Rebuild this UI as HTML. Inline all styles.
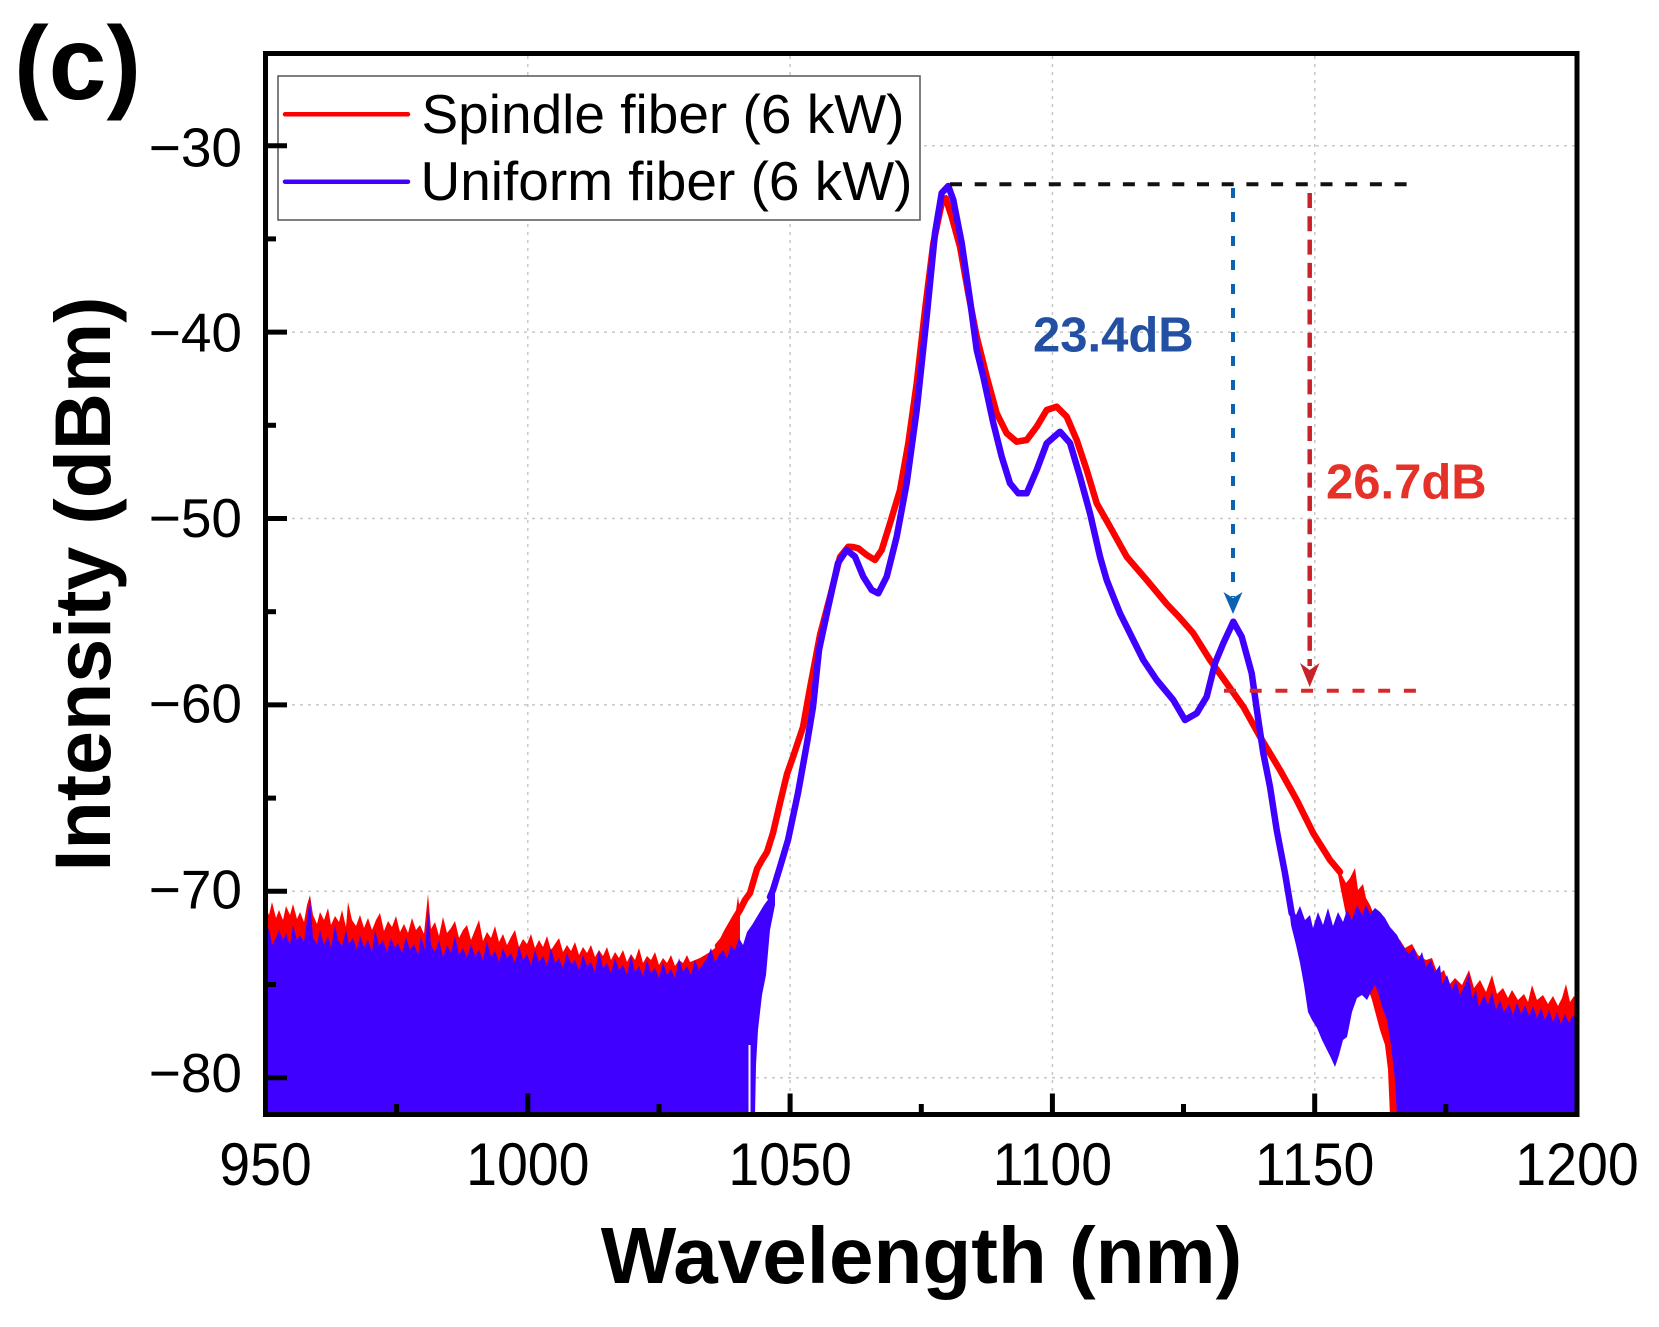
<!DOCTYPE html>
<html><head><meta charset="utf-8"><style>
html,body{margin:0;padding:0;background:#fff;}
svg{display:block;}
text{font-family:"Liberation Sans",Arial,sans-serif;}
</style></head><body>
<svg width="1659" height="1327" viewBox="0 0 1659 1327" xmlns="http://www.w3.org/2000/svg">
<defs><clipPath id="pc"><rect x="266" y="54" width="1311" height="1060"/></clipPath></defs>
<rect width="1659" height="1327" fill="#fff"/>
<!-- grid -->
<g stroke="#c8c8c8" stroke-width="1.5" stroke-dasharray="3 5" fill="none">
<line x1="527.8" y1="56" x2="527.8" y2="1112"/><line x1="790.1" y1="56" x2="790.1" y2="1112"/>
<line x1="1052.4" y1="56" x2="1052.4" y2="1112"/><line x1="1314.7" y1="56" x2="1314.7" y2="1112"/>
<line x1="268" y1="145.7" x2="1575" y2="145.7"/><line x1="268" y1="332.1" x2="1575" y2="332.1"/>
<line x1="268" y1="518.5" x2="1575" y2="518.5"/><line x1="268" y1="704.9" x2="1575" y2="704.9"/>
<line x1="268" y1="891.3" x2="1575" y2="891.3"/><line x1="268" y1="1077.7" x2="1575" y2="1077.7"/>
</g>
<g clip-path="url(#pc)">
<!-- RED -->
<polygon fill="#ff0000" points="266,1114 266,908 269,915 272,902 276,918 279,910 283,920 286,906 290,915 293,904 297,919 300,912 304,922 307,905 310,895 313,915 317,924 320,912 324,920 328,908 331,925 335,916 339,922 342,910 346,927 348,902 352,920 356,926 360,915 364,928 368,918 372,930 376,920 380,913 384,931 388,921 392,927 396,916 400,932 404,924 408,933 412,918 416,930 420,925 424,934 428,894 431,929 435,922 439,936 443,917 447,933 451,928 455,921 459,938 463,930 467,925 471,940 475,930 479,920 483,941 487,932 491,938 495,926 499,942 503,934 507,945 511,937 515,930 519,947 523,939 527,944 531,934 535,948 539,940 543,947 547,936 551,950 555,944 559,938 563,952 567,945 571,951 575,942 579,955 583,947 587,953 591,945 595,957 599,950 603,956 607,947 611,960 615,952 619,958 623,950 627,962 631,954 635,960 639,948 643,963 647,956 651,960 655,952 659,965 663,958 667,963 671,955 675,966 679,960 683,963 687,955 690,962 695,960 700,958 705,955 710,952 715,948 718,946 723,940 727,932 731,925 735,918 738,896 740,912 740,1114"/>
<polyline fill="none" stroke="#ff0000" stroke-width="6.5" stroke-linejoin="round" stroke-linecap="round" points="718,946 723,940 727,932 731,925 735,918 740,910 745,900 750,893 757,869 762,860 767,852 773,833 780,803 787,774 793,757 803,727 810,688 820,635 830,597 840,557 848.3,546.7 853,547 858.3,548.3 866.7,555 875,560 881.7,550 890,523.3 900,490 908.3,443.3 916.7,383.3 925,310 933.3,243.3 941.7,203.3 945.7,198.3 951.7,216.7 960,246.7 968.3,293.3 976.7,336.7 986.7,376.7 996.7,413.3 1006.7,433.3 1016.7,441.7 1026.7,440 1036.7,426.7 1046.7,410 1056.7,406.7 1066.7,416.7 1076.7,440 1086.7,470 1096.7,503.3 1110,526.7 1126.7,556.7 1146.7,580 1166.7,604 1180,618 1193.3,633.3 1210,660 1226.7,683.3 1243.3,706.7 1260,736.7 1280,770 1296.7,800 1313.3,833.3 1330,860 1340,872"/>
<polygon fill="#ff0000" points="1336,864 1346,883 1350,878 1355,868 1358,890 1363,884 1366,898 1370,905 1374,915 1378,912 1383,925 1388,928 1393,935 1400,940 1405,948 1412,944 1418,955 1426,960 1432,958 1438,975 1444,970 1449,985 1455,978 1462,985 1469,970 1474,988 1480,980 1486,992 1492,975 1497,994 1503,988 1508,998 1512,990 1518,1000 1524,994 1528,1002 1532,985 1537,1000 1543,995 1548,1004 1553,996 1558,1006 1562,998 1566,984 1570,1002 1574,996 1578,1004 1578,1116 1390,1116 1388,1070 1385,1045 1380,1030 1372,1000 1360,965 1350,935 1340,885"/>
<!-- BLUE -->
<polygon fill="#4000ff" points="266,1116 266,935 269,928 272,945 276,938 279,930 283,940 286,933 290,945 293,925 297,940 300,935 304,942 307,920 310,897 313,938 317,944 320,930 324,945 328,936 331,948 335,925 338,940 342,946 346,930 349,944 353,938 357,950 360,935 364,947 368,940 372,952 375,930 379,946 383,940 387,952 391,938 395,948 398,943 402,953 406,937 410,950 414,944 418,955 421,936 425,950 428,907 431,945 435,952 439,940 443,957 447,945 451,953 455,936 459,955 463,948 467,958 471,944 475,956 479,950 483,960 487,941 491,957 495,951 499,962 503,948 507,958 511,953 515,963 519,946 523,960 527,954 531,965 535,950 539,962 543,956 547,966 551,948 555,963 559,958 563,968 567,953 571,964 575,960 579,970 583,955 587,966 591,962 595,972 599,950 603,968 607,963 611,973 615,958 619,970 623,965 627,975 631,955 635,972 639,966 643,976 647,960 651,973 655,968 659,978 663,962 667,975 671,969 675,978 679,958 683,972 687,966 691,975 695,960 699,970 703,964 707,958 711,948 715,962 719,955 723,950 727,958 731,945 735,950 739,938 743,945 747,932 752,925 758,915 764,905 770,897 775,888 775,905 770,930 766,975 762,995 758,1030 756,1065 755,1116"/>
<rect x="748.5" y="1045" width="2" height="70" fill="#fff"/>
<polyline fill="none" stroke="#4000ff" stroke-width="6.5" stroke-linejoin="round" stroke-linecap="round" points="770,897 773,890 780,867 788,840 798,793 807,743 813,707 819,650 828,608 838,563 846.7,550 855,556.7 863.3,576.7 871.7,590 878.3,593.3 886.7,576.7 896.7,536.7 906.7,483 916.7,410 926.7,316.7 935,233 941.7,193 948.3,186 953.3,200 961.7,243 970,300 976.7,350 983.3,376.7 993.3,423 1001.7,456.7 1010,483.3 1018.3,493.3 1026.7,493.3 1036.7,470 1046.7,443.3 1060,431.7 1070,443 1080,476.7 1090,513.3 1100,556.7 1106.7,580 1113.3,596.7 1120,613.3 1126.7,626.7 1133.3,640 1143.3,660 1156.7,680 1173.3,700 1185,720 1196.7,713.3 1206.7,696.7 1215,663.3 1223.3,643.3 1233.3,621.7 1241.7,636.7 1251.7,673.3 1258.3,720 1263.3,753.3 1270,786.7 1276.7,830 1285,873.3 1291.7,913.3"/>
<polygon fill="#4000ff" points="1288,898 1292,908 1296,915 1300,906 1305,920 1310,915 1313,928 1318,912 1323,925 1328,908 1333,926 1338,912 1343,922 1347,910 1352,920 1357,905 1362,915 1366,905 1370,914 1375,908 1380,912 1385,918 1390,927 1397,935 1402,945 1409,954 1414,948 1418,960 1422,952 1426,967 1431,960 1435,972 1440,965 1442,984 1447,975 1452,990 1456,980 1460,995 1465,985 1469,974 1472,998 1476,990 1479,1007 1484,995 1488,1005 1492,992 1496,1010 1500,1000 1504,1012 1509,1004 1513,1015 1517,1002 1521,1014 1525,1005 1529,1016 1533,1006 1537,1018 1541,1008 1545,1020 1549,1010 1553,1022 1557,1012 1561,1024 1565,1014 1569,1023 1573,1015 1578,1024 1578,1116 1397,1116 1395,1080 1391,1045 1387,1020 1383,1010 1379,995 1375,985 1371,992 1367,1000 1362,995 1357,998 1352,1012 1347,1037 1343,1040 1339,1055 1335,1067 1331,1058 1327,1050 1322,1040 1317,1028 1312,1020 1308,1012 1304,985 1300,963 1296,945 1291,925"/>
</g>
<!-- annotations -->
<line x1="950" y1="184.3" x2="1418" y2="184.3" stroke="#111" stroke-width="4" stroke-dasharray="12 12.7"/>
<line x1="1233" y1="188" x2="1233" y2="597" stroke="#0a62b0" stroke-width="4" stroke-dasharray="10 14"/>
<polygon fill="#0a62b0" points="1223.5,592 1233,598 1242.5,592 1233,614"/>
<line x1="1309.7" y1="193" x2="1309.7" y2="666" stroke="#c8232b" stroke-width="4.5" stroke-dasharray="15 8.3"/>
<polygon fill="#c8232b" points="1300,663 1309.7,670 1319.5,663 1309.7,687"/>
<line x1="1224" y1="690.7" x2="1428" y2="690.7" stroke="#d8282a" stroke-width="4" stroke-dasharray="12 13.7"/>
<text x="1033" y="351.7" font-size="49" font-weight="bold" fill="#2350a2">23.4dB</text>
<text x="1326" y="498.3" font-size="49" font-weight="bold" fill="#e53229">26.7dB</text>
<!-- legend -->
<rect x="278" y="76" width="642" height="144" fill="#fff" stroke="#555" stroke-width="1.5"/>
<line x1="285" y1="114.3" x2="408" y2="114.3" stroke="#ff0000" stroke-width="4.5" stroke-linecap="round"/>
<line x1="285" y1="181.7" x2="408" y2="181.7" stroke="#4000ff" stroke-width="4.5" stroke-linecap="round"/>
<text x="421.5" y="133" font-size="55" fill="#000">Spindle fiber (6 kW)</text>
<text x="420.5" y="200" font-size="55" fill="#000">Uniform fiber (6 kW)</text>
<!-- frame -->
<rect x="265.5" y="53.5" width="1311.5" height="1061" fill="none" stroke="#000" stroke-width="5"/>
<!-- ticks -->
<g stroke="#000" stroke-width="5">
<line x1="268" y1="145.7" x2="287" y2="145.7"/><line x1="268" y1="332.1" x2="287" y2="332.1"/>
<line x1="268" y1="518.5" x2="287" y2="518.5"/><line x1="268" y1="704.9" x2="287" y2="704.9"/>
<line x1="268" y1="891.3" x2="287" y2="891.3"/><line x1="268" y1="1077.7" x2="287" y2="1077.7"/>
<line x1="268" y1="238.9" x2="276" y2="238.9"/><line x1="268" y1="425.3" x2="276" y2="425.3"/>
<line x1="268" y1="611.7" x2="276" y2="611.7"/><line x1="268" y1="798.1" x2="276" y2="798.1"/>
<line x1="268" y1="984.5" x2="276" y2="984.5"/>
<line x1="527.8" y1="1112" x2="527.8" y2="1093.5"/><line x1="790.1" y1="1112" x2="790.1" y2="1093.5"/>
<line x1="1052.4" y1="1112" x2="1052.4" y2="1093.5"/><line x1="1314.7" y1="1112" x2="1314.7" y2="1093.5"/>
<line x1="396.6" y1="1112" x2="396.6" y2="1104"/><line x1="659" y1="1112" x2="659" y2="1104"/>
<line x1="921.3" y1="1112" x2="921.3" y2="1104"/><line x1="1183.5" y1="1112" x2="1183.5" y2="1104"/>
<line x1="1445.8" y1="1112" x2="1445.8" y2="1104"/>
</g>
<!-- y tick labels -->
<g font-size="55" text-anchor="end" fill="#000">
<text x="242" y="166.7">−30</text>
<text x="242" y="351.7">−40</text>
<text x="242" y="537">−50</text>
<text x="242" y="722.4">−60</text>
<text x="242" y="908.7">−70</text>
<text x="242" y="1092">−80</text>
</g>
<!-- x tick labels -->
<g font-size="55.5" text-anchor="middle" fill="#000">
<text transform="translate(265.5,1185) scale(1,1.09)">950</text>
<text transform="translate(527.8,1185) scale(1,1.09)">1000</text>
<text transform="translate(790.1,1185) scale(1,1.09)">1050</text>
<text transform="translate(1052.4,1185) scale(1,1.09)">1100</text>
<text transform="translate(1314.7,1185) scale(1,1.09)">1150</text>
<text transform="translate(1577,1185) scale(1,1.09)">1200</text>
</g>
<!-- titles -->
<text x="921.5" y="1283" font-size="80" font-weight="bold" text-anchor="middle" fill="#000">Wavelength (nm)</text>
<text transform="translate(110,584) rotate(-90)" font-size="79" font-weight="bold" text-anchor="middle" fill="#000">Intensity (dBm)</text>
<text x="14" y="99" font-size="104" font-weight="bold" fill="#000">(c)</text>
</svg>
</body></html>
